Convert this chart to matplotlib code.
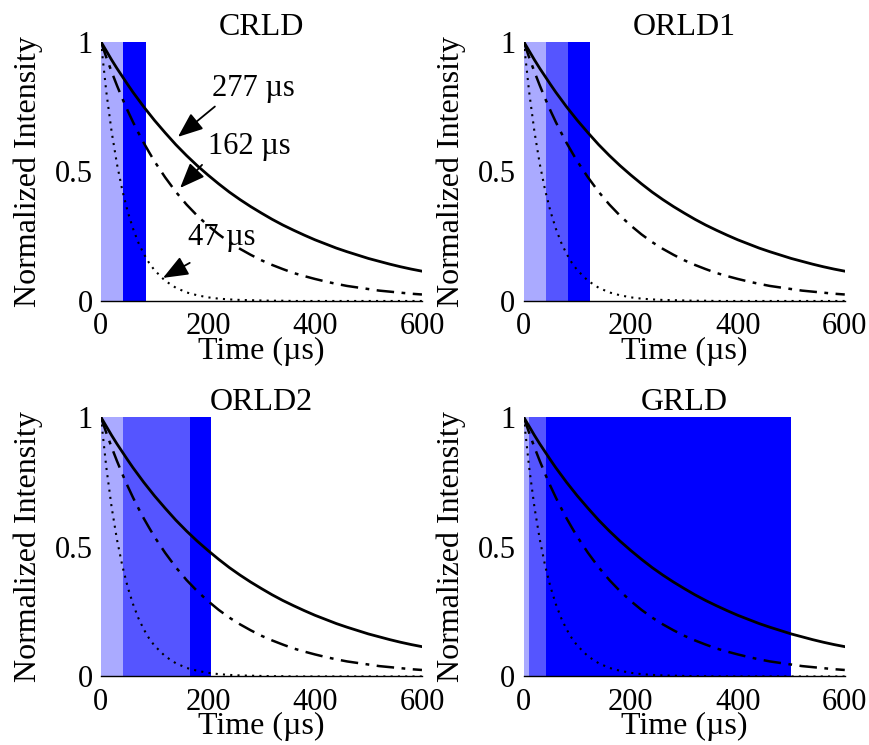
"""Luminescence decay curves with gate windows for four readout schemes (2x2 panels)."""
import matplotlib
matplotlib.use("Agg")
import matplotlib.pyplot as plt

plt.rcParams["font.family"] = ["Liberation Serif", "DejaVu Serif"]

# time axis (µs) and decay values
T = [0, 10, 20, 30, 40, 50, 60, 70, 80, 90, 100,
     120, 140, 160, 180, 200, 220, 240, 260, 280, 300,
     320, 340, 360, 380, 400, 420, 440, 460, 480, 500,
     520, 540, 560, 580, 600]
I_277 = [1.000, 0.965, 0.930, 0.897, 0.866, 0.835, 0.805, 0.777, 0.749, 0.723, 0.697,
         0.649, 0.603, 0.561, 0.522, 0.486, 0.452, 0.420, 0.391, 0.364, 0.339,
         0.315, 0.293, 0.273, 0.254, 0.236, 0.220, 0.204, 0.190, 0.177, 0.164,
         0.153, 0.142, 0.132, 0.123, 0.115]
I_162 = [1.000, 0.940, 0.884, 0.831, 0.781, 0.734, 0.690, 0.649, 0.610, 0.574, 0.539,
         0.477, 0.421, 0.372, 0.329, 0.291, 0.257, 0.227, 0.201, 0.178, 0.157,
         0.139, 0.123, 0.108, 0.096, 0.085, 0.075, 0.066, 0.058, 0.052, 0.046,
         0.040, 0.036, 0.032, 0.028, 0.025]
I_47 = [1.000, 0.808, 0.653, 0.528, 0.427, 0.345, 0.279, 0.225, 0.182, 0.147, 0.119,
        0.078, 0.051, 0.033, 0.022, 0.014, 0.009, 0.006, 0.004, 0.003, 0.002,
        0.001, 0.001, 0.0, 0.0, 0.0, 0.0, 0.0, 0.0, 0.0, 0.0,
        0.0, 0.0, 0.0, 0.0, 0.0]

PANELS = ["CRLD", "ORLD1", "ORLD2", "GRLD"]
# gate edges (µs) for each panel
GATES = {"CRLD": [0, 42, 84],
         "ORLD1": [0, 42, 83, 124],
         "ORLD2": [0, 42, 166, 206],
         "GRLD": [0, 9, 42, 500]}

LIGHT, MID, BRIGHT = "#aaaaff", "#5555ff", "#0000ff"
GATE_COLS = {2: [LIGHT, BRIGHT], 3: [LIGHT, MID, BRIGHT]}

X_TICKS = [0, 200, 400, 600]
Y_TICKS = [0, 0.5, 1]
Y_TICKLABELS = ["0", "0.5", "1"]

# lifetime labels on the CRLD panel: text, text anchor, arrow tail, arrow tip
LIFETIMES = ["277 µs", "162 µs", "47 µs"]
LBL_XY = [(207, 0.82), (200, 0.595), (163, 0.243)]
TAIL_XY = [(213, 0.75), (189, 0.525), (166, 0.147)]
TIP_XY = [(144, 0.633), (148, 0.436), (116, 0.089)]

POS = [(0.116, 0.596), (0.602, 0.596), (0.116, 0.092), (0.602, 0.092)]
W, H = 0.369, 0.348


def main():
    fig = plt.figure(figsize=(8.7, 7.45), dpi=100)
    for name, (x0, y0) in zip(PANELS, POS):
        ax = fig.add_axes([x0, y0, W, H])
        edges = GATES[name]
        cols = GATE_COLS[len(edges) - 1]
        for a, b, c in zip(edges[:-1], edges[1:], cols):
            ax.axvspan(a, b, ymin=0, ymax=1, color=c, lw=0, zorder=1)
        ax.plot(T, I_277, color="black", lw=2.0, zorder=3)
        ax.plot(T, I_162, color="black", lw=1.8, ls=(0, (7, 3, 1.5, 3)), zorder=3)
        ax.plot(T, I_47, color="black", lw=1.5, ls=(0, (1, 2.5)), zorder=3)
        ax.set_xlim(0, 600)
        ax.set_ylim(0, 1)
        for s in ("top", "right", "left"):
            ax.spines[s].set_visible(False)
        ax.spines["bottom"].set_linewidth(1.0)
        ax.spines["bottom"].set_zorder(2)
        ax.set_xticks(X_TICKS)
        ax.set_yticks(Y_TICKS)
        ax.set_yticklabels(Y_TICKLABELS)
        ax.tick_params(length=0, labelsize=22)
        ax.tick_params(axis="x", pad=8)
        ax.tick_params(axis="y", pad=6)
        ax.set_title(name, fontsize=23, pad=4)
        ax.set_xlabel("Time (µs)", fontsize=23, labelpad=-3)
        ax.set_ylabel("Normalized Intensity", fontsize=23, labelpad=8)

        if name == "CRLD":
            for txt, lxy, tail, tip in zip(LIFETIMES, LBL_XY, TAIL_XY, TIP_XY):
                ax.text(lxy[0], lxy[1], txt, fontsize=22, va="center", ha="left", zorder=4)
                ax.annotate("", xy=tip, xytext=tail, fontsize=22, zorder=4,
                            arrowprops=dict(arrowstyle="-|>,head_length=0.7,head_width=0.28",
                                            color="black", lw=1.3, shrinkA=0, shrinkB=0))

    fig.savefig("out.png", dpi=100)


if __name__ == "__main__":
    main()
